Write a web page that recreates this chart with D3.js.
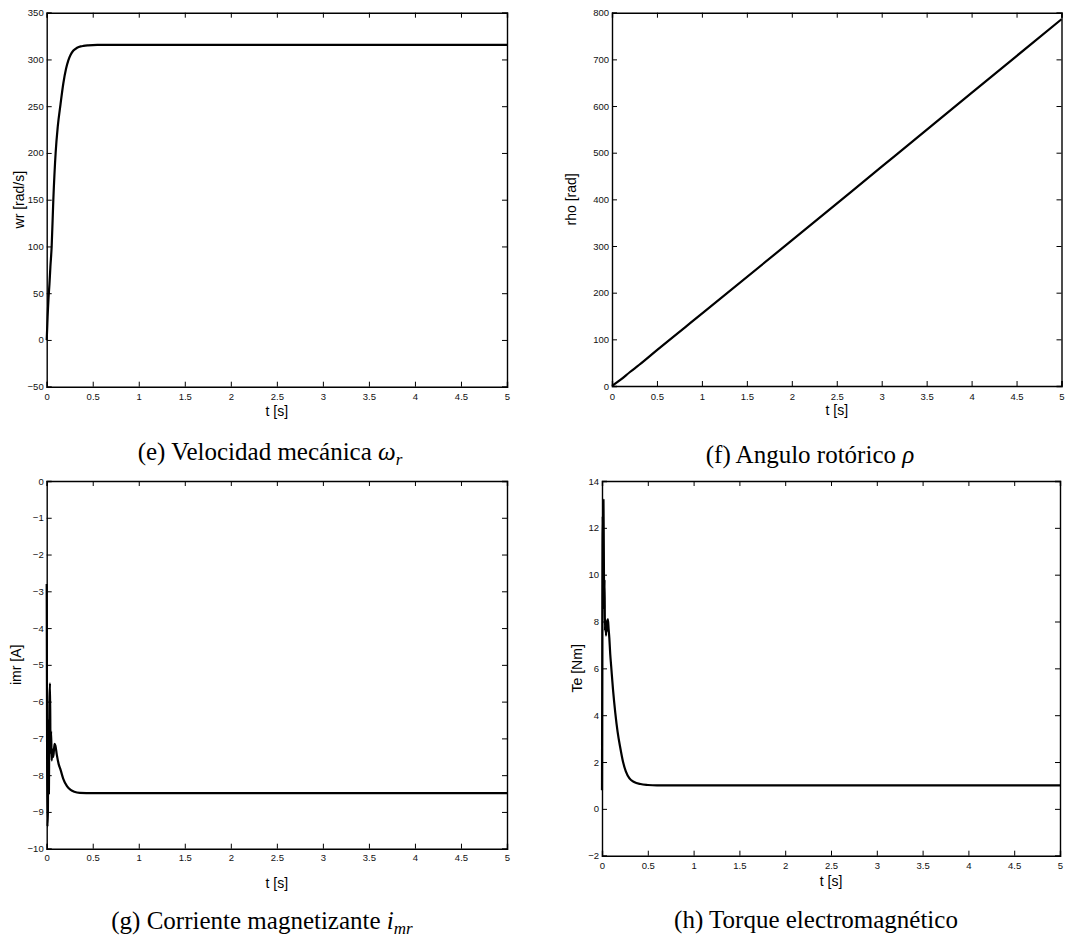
<!DOCTYPE html>
<html><head><meta charset="utf-8">
<script src="https://cdn.jsdelivr.net/npm/d3@7"></script>
<style>body{margin:0;background:#fff}svg{display:block}</style>
</head><body>
<svg id="c" width="1081" height="940"></svg>
<script>
// ---- data ----
const xTicks = [0,0.5,1,1.5,2,2.5,3,3.5,4,4.5,5];
const wrTicks = [-50,0,50,100,150,200,250,300,350];
const rhoTicks = [0,100,200,300,400,500,600,700,800];
const imrTicks = [-10,-9,-8,-7,-6,-5,-4,-3,-2,-1,0];
const teTicks = [-2,0,2,4,6,8,10,12,14];

const wrT = [0,0.005,0.01,0.02,0.03,0.04,0.054,0.072,0.097,0.12,0.15,0.18,0.21,0.235,0.26,0.29,0.33,0.37,0.4,0.45,0.55,1,5];
const wrV = [0,12,25,45,60,78,100,150,200,228,252,274,290,299,305,309.5,312.5,314,314.5,315,315.5,315.5,315.5];

const rhoT = [0,0.1,0.2,0.3,0.5,1,2,3,4,5];
const rhoV = [0,14,30,45,77,155,312,470,628,786];

const imrT = [0,0.004,0.008,0.013,0.018,0.024,0.03,0.036,0.042,0.048,0.054,0.062,0.072,0.085,0.095,0.11,0.13,0.15,0.18,0.22,0.26,0.3,0.36,0.5,5];
const imrV = [-2.8,-7,-9.4,-9.0,-6.5,-8.5,-6.0,-5.5,-7.4,-6.8,-7.6,-7.3,-7.5,-7.15,-7.2,-7.45,-7.7,-7.85,-8.1,-8.3,-8.4,-8.45,-8.48,-8.49,-8.49];

const teT = [0,0.004,0.008,0.012,0.016,0.02,0.024,0.028,0.032,0.038,0.044,0.05,0.056,0.064,0.072,0.08,0.09,0.1,0.12,0.145,0.17,0.2,0.23,0.26,0.3,0.35,0.42,0.5,0.6,5];
const teV = [0.8,9,12.5,9.5,13.2,11,8.5,9.8,7.6,8.1,7.4,8.0,7.6,8.1,7.7,7.3,6.6,6.1,5.1,4.1,3.3,2.6,2.0,1.6,1.3,1.15,1.06,1.02,1.0,1.0];

const panels = [
  {x0:46.7,x1:507,y0:12.7,y1:386.7,yDom:[-50,350],yTicks:wrTicks,t:wrT,v:wrV,ylab:"wr [rad/s]",ylx:20,xlabY:412,tickY:397,cap:["(e) Velocidad mecánica ","ω","r"],capX:270,capY:460},
  {x0:612,x1:1061.5,y0:12.7,y1:386,yDom:[0,800],yTicks:rhoTicks,t:rhoT,v:rhoV,ylab:"rho [rad]",ylx:572,xlabY:411,tickY:397,cap:["(f) Angulo rotórico ","ρ",""],capX:810,capY:463},
  {x0:46.7,x1:507,y0:481,y1:848.7,yDom:[-10,0],yTicks:imrTicks,t:imrT,v:imrV,ylab:"imr [A]",ylx:17,xlabY:884,tickY:858,cap:["(g) Corriente magnetizante ","i","mr"],capX:262,capY:929},
  {x0:602,x1:1060,y0:481,y1:855.7,yDom:[-2,14],yTicks:teTicks,t:teT,v:teV,ylab:"Te [Nm]",ylx:578,xlabY:882,tickY:866,cap:["(h) Torque electromagnético","",""],capX:816,capY:928}
];

const svg = d3.select("#c");
const sans = "'Liberation Sans', Arial, sans-serif";
const serif = "'Liberation Serif', 'DejaVu Serif', serif";

panels.forEach(p => {
  const x = d3.scaleLinear().domain([0,5]).range([p.x0,p.x1]);
  const y = d3.scaleLinear().domain(p.yDom).range([p.y1,p.y0]);
  const g = svg.append("g");
  const tl = 5;
  const axB = d3.axisBottom(x).tickValues(xTicks).tickSize(-tl).tickPadding(6).tickFormat(d3.format("~g"));
  const axT = d3.axisTop(x).tickValues(xTicks).tickSize(-tl).tickFormat("");
  const axL = d3.axisLeft(y).tickValues(p.yTicks).tickSize(-tl).tickPadding(3).tickFormat(d3.format("~g"));
  const axR = d3.axisRight(y).tickValues(p.yTicks).tickSize(-tl).tickFormat("");
  const gb = g.append("g").attr("transform",`translate(0,${p.y1})`).call(axB);
  g.append("g").attr("transform",`translate(0,${p.y0})`).call(axT);
  g.append("g").attr("transform",`translate(${p.x0},0)`).call(axL);
  g.append("g").attr("transform",`translate(${p.x1},0)`).call(axR);
  g.selectAll(".domain").attr("stroke","#000").attr("stroke-width",1.4);
  g.selectAll(".tick line").attr("stroke","#000").attr("stroke-width",1);
  g.selectAll(".tick text").attr("font-family",sans).attr("font-size",9.5).attr("fill","#111");
  gb.selectAll(".tick text").attr("y",null).attr("dy",null).attr("transform",`translate(0,${p.tickY-p.y1})`).attr("dominant-baseline","middle");
  const data = p.t.map((t,i)=>[t,p.v[i]]);
  g.append("path").datum(data)
    .attr("fill","none").attr("stroke","#000").attr("stroke-width",2.2).attr("stroke-linejoin","round")
    .attr("d", d3.line().curve(d3.curveMonotoneX).x(d=>x(d[0])).y(d=>y(d[1])));
  g.append("text").attr("x",(p.x0+p.x1)/2).attr("y",p.xlabY).attr("text-anchor","middle")
    .attr("dominant-baseline","middle").attr("font-family",sans).attr("font-size",14).text("t [s]");
  g.append("text").attr("transform",`translate(${p.ylx},${(p.y0+p.y1)/2}) rotate(-90)`)
    .attr("text-anchor","middle").attr("dominant-baseline","middle").attr("font-family",sans).attr("font-size",14).text(p.ylab);
  const cap = g.append("text").attr("x",p.capX).attr("y",p.capY).attr("text-anchor","middle")
    .attr("font-family",serif).attr("font-size",25);
  cap.append("tspan").text(p.cap[0]);
  if (p.cap[1]) cap.append("tspan").attr("font-style","italic").text(p.cap[1]);
  if (p.cap[2]) cap.append("tspan").attr("font-style","italic").attr("font-size",17).attr("dy",5).text(p.cap[2]);
});
</script>
</body></html>
